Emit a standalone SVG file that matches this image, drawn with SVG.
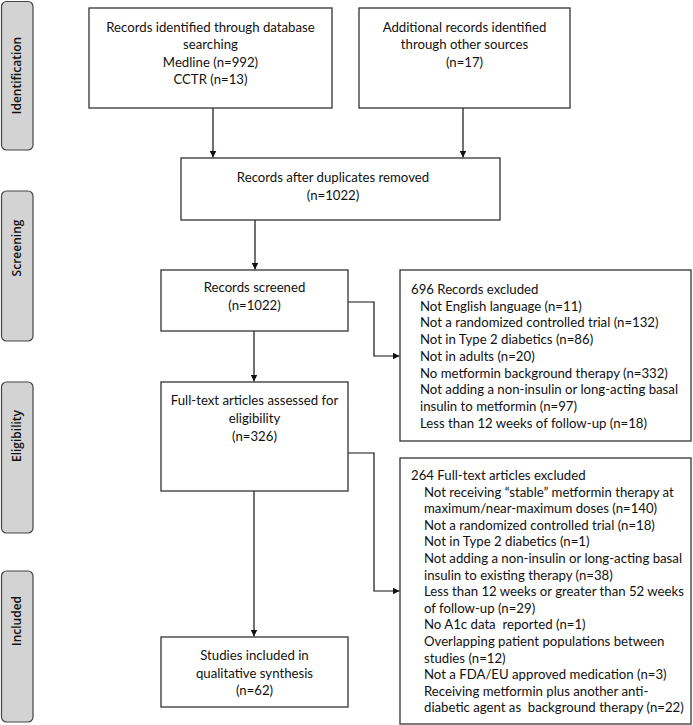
<svg xmlns="http://www.w3.org/2000/svg" width="693" height="725" viewBox="0 0 693 725">
<style>
.box{fill:#fff;stroke:#333;stroke-width:1.3}
.lab{fill:#d3d3d3;stroke:#444;stroke-width:1.2}
.t{font-family:Lato,"Open Sans",sans-serif;font-size:13.2px;fill:#111}
.c{text-anchor:middle}
.lt{font-family:"Open Sans",sans-serif;font-size:12px;font-weight:600;fill:#111;text-anchor:middle}
.con{fill:none;stroke:#111;stroke-width:1.2}
</style>
<defs>
<marker id="ah" viewBox="0 0 10 10" refX="10" refY="5" markerWidth="7" markerHeight="7" markerUnits="userSpaceOnUse" orient="auto">
<path d="M0,0 L10,5 L0,10 Z" fill="#111"/>
</marker>
</defs>
<g id="stage-identification"><rect class="lab" x="1.5" y="1.5" width="31.5" height="148.5" rx="5"/><text class="lt" transform="translate(21,75.5) rotate(-90)">Identification</text></g>
<g id="stage-screening"><rect class="lab" x="1.5" y="191" width="31.5" height="150" rx="5"/><text class="lt" transform="translate(21,248) rotate(-90)">Screening</text></g>
<g id="stage-eligibility"><rect class="lab" x="1.5" y="382" width="31.5" height="151" rx="5"/><text class="lt" transform="translate(21,436) rotate(-90)">Eligibility</text></g>
<g id="stage-included"><rect class="lab" x="1.5" y="571" width="31.5" height="151" rx="5"/><text class="lt" transform="translate(21,621) rotate(-90)">Included</text></g>

<g id="connectors">
<path class="con" d="M213,108 V157.5" marker-end="url(#ah)"/>
<path class="con" d="M463,108 V157.5" marker-end="url(#ah)"/>
<path class="con" d="M255,220 V269.5" marker-end="url(#ah)"/>
<path class="con" d="M254,331 V381.5" marker-end="url(#ah)"/>
<path class="con" d="M254,491 V636.5" marker-end="url(#ah)"/>
<path class="con" d="M348,302 H374 V356 H399.5" marker-end="url(#ah)"/>
<path class="con" d="M348,453 H374 V591 H399.5" marker-end="url(#ah)"/>
</g>

<g id="n-database"><rect class="box" x="89" y="8" width="243" height="100"/>
<text class="t c" x="210.5" y="31.5">Records identified through database</text>
<text class="t c" x="210.5" y="49">searching</text>
<text class="t c" x="210.5" y="66.5">Medline (n=992)</text>
<text class="t c" x="210.5" y="84">CCTR (n=13)</text></g>

<g id="n-other"><rect class="box" x="359" y="8" width="211" height="100"/>
<text class="t c" x="464.5" y="31.5">Additional records identified</text>
<text class="t c" x="464.5" y="49">through other sources</text>
<text class="t c" x="464.5" y="66.5">(n=17)</text></g>

<g id="n-dedup"><rect class="box" x="181" y="158" width="319" height="62"/>
<text class="t c" x="333" y="181.5">Records after duplicates removed</text>
<text class="t c" x="333" y="199.5">(n=1022)</text></g>

<g id="n-screened"><rect class="box" x="161" y="270" width="187" height="61"/>
<text class="t c" x="254.5" y="292">Records screened</text>
<text class="t c" x="254.5" y="310">(n=1022)</text></g>

<g id="n-excl1"><rect class="box" x="400" y="270" width="291" height="171"/>
<text class="t" x="411" y="294">696 Records excluded</text>
<text class="t" x="420" y="310.7">Not English language (n=11)</text>
<text class="t" x="420" y="327.4">Not a randomized controlled trial (n=132)</text>
<text class="t" x="420" y="344.1">Not in Type 2 diabetics (n=86)</text>
<text class="t" x="420" y="360.8">Not in adults (n=20)</text>
<text class="t" x="420" y="377.5">No metformin background therapy (n=332)</text>
<text class="t" x="420" y="394.2">Not adding a non-insulin or long-acting basal</text>
<text class="t" x="420" y="410.9">insulin to metformin (n=97)</text>
<text class="t" x="420" y="427.6">Less than 12 weeks of follow-up (n=18)</text></g>

<g id="n-fulltext"><rect class="box" x="161" y="382" width="187" height="109"/>
<text class="t c" x="254.5" y="405">Full-text articles assessed for</text>
<text class="t c" x="254.5" y="423">eligibility</text>
<text class="t c" x="254.5" y="441">(n=326)</text></g>

<g id="n-excl2"><rect class="box" x="400" y="458" width="291" height="266"/>
<text class="t" x="411" y="480">264 Full-text articles excluded</text>
<text class="t" x="424" y="496.6">Not receiving “stable” metformin therapy at</text>
<text class="t" x="424" y="513.2">maximum/near-maximum doses (n=140)</text>
<text class="t" x="424" y="529.8">Not a randomized controlled trial (n=18)</text>
<text class="t" x="424" y="546.4">Not in Type 2 diabetics (n=1)</text>
<text class="t" x="424" y="563">Not adding a non-insulin or long-acting basal</text>
<text class="t" x="424" y="579.6">insulin to existing therapy (n=38)</text>
<text class="t" x="424" y="596.2">Less than 12 weeks or greater than 52 weeks</text>
<text class="t" x="424" y="612.8">of follow-up (n=29)</text>
<text class="t" x="424" y="629.4" xml:space="preserve">No A1c data  reported (n=1)</text>
<text class="t" x="424" y="646">Overlapping patient populations between</text>
<text class="t" x="424" y="662.6">studies (n=12)</text>
<text class="t" x="424" y="679.2">Not a FDA/EU approved medication (n=3)</text>
<text class="t" x="424" y="695.8">Receiving metformin plus another anti-</text>
<text class="t" x="424" y="712.4" xml:space="preserve">diabetic agent as  background therapy (n=22)</text></g>

<g id="n-included"><rect class="box" x="161" y="637" width="187" height="70"/>
<text class="t c" x="254.5" y="660">Studies included in</text>
<text class="t c" x="254.5" y="677.5">qualitative synthesis</text>
<text class="t c" x="254.5" y="695">(n=62)</text></g>
</svg>
